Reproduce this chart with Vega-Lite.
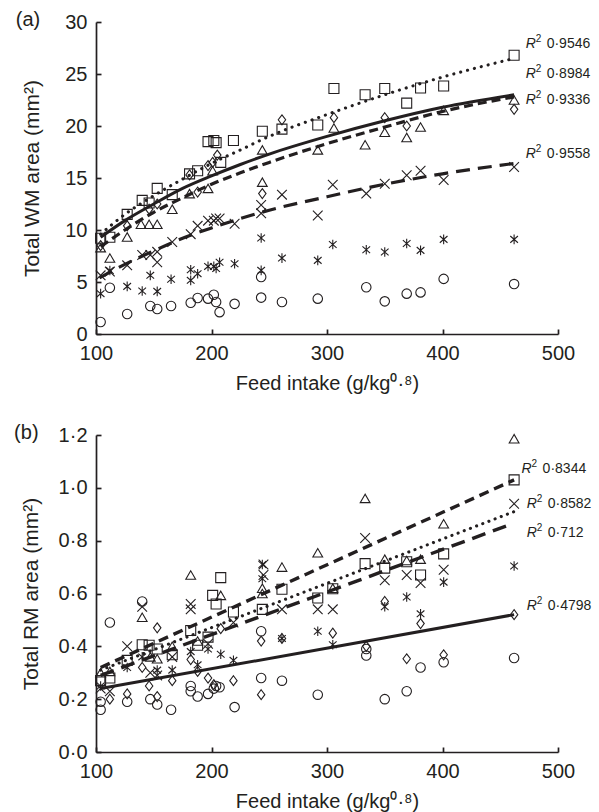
{
  "$schema": "https://vega.github.io/schema/vega-lite/v6.json",
  "padding": {"left": 14, "top": 10, "right": 5, "bottom": 5},
  "background": "white",
  "config": {
    "view": {"stroke": null},
    "font": "Liberation Sans",
    "axis": {"domainColor": "#231f20", "domainWidth": 1.7, "tickColor": "#231f20", "tickWidth": 1.7, "tickSize": -5, "grid": false, "labelFlush": false, "labelOverlap": false, "labelFont": "Liberation Sans", "labelFontSize": 20, "labelColor": "#231f20", "titleFont": "Liberation Sans", "titleFontSize": 21, "titleFontWeight": "normal", "titleColor": "#231f20"},
    "axisX": {"labelPadding": 14, "titlePadding": 10, "titleFontSize": 20},
    "axisY": {"labelPadding": 14},
    "title": {"font": "Liberation Sans", "fontSize": 20, "fontWeight": "normal", "color": "#231f20", "anchor": "start", "frame": "bounds", "offset": 0}
  },
  "datasets": {
    "a_pts": [
      {"x": 104, "y": 1.15, "s": "circle"}, {"x": 112, "y": 4.45, "s": "circle"}, {"x": 127, "y": 1.92, "s": "circle"}, {"x": 147, "y": 2.69, "s": "circle"}, {"x": 153, "y": 2.4, "s": "circle"}, {"x": 165, "y": 2.69, "s": "circle"}, {"x": 182, "y": 3.0, "s": "circle"}, {"x": 188, "y": 3.46, "s": "circle"}, {"x": 197, "y": 3.4, "s": "circle"}, {"x": 202, "y": 3.78, "s": "circle"}, {"x": 204, "y": 3.08, "s": "circle"}, {"x": 207, "y": 2.1, "s": "circle"}, {"x": 220, "y": 2.9, "s": "circle"}, {"x": 243, "y": 3.5, "s": "circle"}, {"x": 243, "y": 5.48, "s": "circle"}, {"x": 261, "y": 3.08, "s": "circle"}, {"x": 292, "y": 3.4, "s": "circle"}, {"x": 334, "y": 4.5, "s": "circle"}, {"x": 350, "y": 3.14, "s": "circle"}, {"x": 369, "y": 3.88, "s": "circle"}, {"x": 381, "y": 4.0, "s": "circle"}, {"x": 401, "y": 5.3, "s": "circle"}, {"x": 462, "y": 4.8, "s": "circle"},
      {"x": 104, "y": 3.88, "s": "asterisk"}, {"x": 112, "y": 6.1, "s": "asterisk"}, {"x": 127, "y": 4.58, "s": "asterisk"}, {"x": 140, "y": 4.13, "s": "asterisk"}, {"x": 147, "y": 5.64, "s": "asterisk"}, {"x": 153, "y": 4.1, "s": "asterisk"}, {"x": 165, "y": 5.26, "s": "asterisk"}, {"x": 182, "y": 5.16, "s": "asterisk"}, {"x": 182, "y": 6.18, "s": "asterisk"}, {"x": 188, "y": 5.8, "s": "asterisk"}, {"x": 197, "y": 6.5, "s": "asterisk"}, {"x": 202, "y": 6.5, "s": "asterisk"}, {"x": 204, "y": 6.3, "s": "asterisk"}, {"x": 207, "y": 6.9, "s": "asterisk"}, {"x": 220, "y": 6.76, "s": "asterisk"}, {"x": 243, "y": 6.12, "s": "asterisk"}, {"x": 243, "y": 9.23, "s": "asterisk"}, {"x": 261, "y": 7.3, "s": "asterisk"}, {"x": 292, "y": 7.08, "s": "asterisk"}, {"x": 305, "y": 8.6, "s": "asterisk"}, {"x": 334, "y": 8.1, "s": "asterisk"}, {"x": 350, "y": 7.88, "s": "asterisk"}, {"x": 369, "y": 8.7, "s": "asterisk"}, {"x": 381, "y": 8.04, "s": "asterisk"}, {"x": 401, "y": 9.1, "s": "asterisk"}, {"x": 462, "y": 9.1, "s": "asterisk"},
      {"x": 104, "y": 5.64, "s": "cross"}, {"x": 112, "y": 6.0, "s": "cross"}, {"x": 127, "y": 6.6, "s": "cross"}, {"x": 140, "y": 7.6, "s": "cross"}, {"x": 147, "y": 7.6, "s": "cross"}, {"x": 153, "y": 6.9, "s": "cross"}, {"x": 153, "y": 7.9, "s": "cross"}, {"x": 166, "y": 8.85, "s": "cross"}, {"x": 182, "y": 9.6, "s": "cross"}, {"x": 188, "y": 10.4, "s": "cross"}, {"x": 197, "y": 10.9, "s": "cross"}, {"x": 202, "y": 10.9, "s": "cross"}, {"x": 204, "y": 11.1, "s": "cross"}, {"x": 207, "y": 11.1, "s": "cross"}, {"x": 220, "y": 10.6, "s": "cross"}, {"x": 243, "y": 12.4, "s": "cross"}, {"x": 243, "y": 11.6, "s": "cross"}, {"x": 261, "y": 13.4, "s": "cross"}, {"x": 292, "y": 11.4, "s": "cross"}, {"x": 305, "y": 14.35, "s": "cross"}, {"x": 334, "y": 13.5, "s": "cross"}, {"x": 350, "y": 14.45, "s": "cross"}, {"x": 369, "y": 15.26, "s": "cross"}, {"x": 381, "y": 15.7, "s": "cross"}, {"x": 401, "y": 14.8, "s": "cross"}, {"x": 462, "y": 16.06, "s": "cross"},
      {"x": 104, "y": 8.3, "s": "triangle"}, {"x": 112, "y": 7.3, "s": "triangle"}, {"x": 127, "y": 9.33, "s": "triangle"}, {"x": 139, "y": 10.55, "s": "triangle"}, {"x": 146, "y": 10.55, "s": "triangle"}, {"x": 153, "y": 10.55, "s": "triangle"}, {"x": 166, "y": 12.0, "s": "triangle"}, {"x": 181, "y": 13.5, "s": "triangle"}, {"x": 197, "y": 14.0, "s": "triangle"}, {"x": 201, "y": 15.7, "s": "triangle"}, {"x": 244, "y": 17.7, "s": "triangle"}, {"x": 244, "y": 14.6, "s": "triangle"}, {"x": 292, "y": 17.7, "s": "triangle"}, {"x": 306, "y": 19.8, "s": "triangle"}, {"x": 333, "y": 18.2, "s": "triangle"}, {"x": 350, "y": 19.4, "s": "triangle"}, {"x": 369, "y": 18.9, "s": "triangle"}, {"x": 381, "y": 19.9, "s": "triangle"}, {"x": 401, "y": 21.5, "s": "triangle"}, {"x": 462, "y": 22.5, "s": "triangle"},
      {"x": 104, "y": 8.5, "s": "diamond"}, {"x": 127, "y": 10.4, "s": "diamond"}, {"x": 146, "y": 12.0, "s": "diamond"}, {"x": 153, "y": 12.5, "s": "diamond"}, {"x": 181, "y": 15.3, "s": "diamond"}, {"x": 188, "y": 13.65, "s": "diamond"}, {"x": 197, "y": 16.2, "s": "diamond"}, {"x": 201, "y": 16.5, "s": "diamond"}, {"x": 205, "y": 17.2, "s": "diamond"}, {"x": 244, "y": 13.5, "s": "diamond"}, {"x": 261, "y": 20.6, "s": "diamond"}, {"x": 306, "y": 20.8, "s": "diamond"}, {"x": 350, "y": 20.8, "s": "diamond"}, {"x": 369, "y": 20.0, "s": "diamond"}, {"x": 462, "y": 21.6, "s": "diamond"},
      {"x": 104, "y": 9.2, "s": "square"}, {"x": 112, "y": 9.3, "s": "square"}, {"x": 127, "y": 11.5, "s": "square"}, {"x": 140, "y": 12.85, "s": "square"}, {"x": 146, "y": 12.6, "s": "square"}, {"x": 153, "y": 14.0, "s": "square"}, {"x": 166, "y": 13.4, "s": "square"}, {"x": 181, "y": 15.4, "s": "square"}, {"x": 188, "y": 15.7, "s": "square"}, {"x": 197, "y": 18.5, "s": "square"}, {"x": 202, "y": 18.6, "s": "square"}, {"x": 204, "y": 18.4, "s": "square"}, {"x": 208, "y": 16.5, "s": "square"}, {"x": 219, "y": 18.6, "s": "square"}, {"x": 244, "y": 19.5, "s": "square"}, {"x": 261, "y": 19.7, "s": "square"}, {"x": 292, "y": 20.1, "s": "square"}, {"x": 306, "y": 23.6, "s": "square"}, {"x": 333, "y": 23.0, "s": "square"}, {"x": 350, "y": 23.6, "s": "square"}, {"x": 369, "y": 22.2, "s": "square"}, {"x": 381, "y": 23.65, "s": "square"}, {"x": 401, "y": 23.85, "s": "square"}, {"x": 462, "y": 26.8, "s": "square"}
    ],
    "a_fit": [
      {"x": 104, "y": 9.6, "f": "dot"}, {"x": 125, "y": 11.5, "f": "dot"}, {"x": 150, "y": 13.3, "f": "dot"}, {"x": 175, "y": 14.9, "f": "dot"}, {"x": 200, "y": 16.4, "f": "dot"}, {"x": 225, "y": 17.7, "f": "dot"}, {"x": 250, "y": 19.0, "f": "dot"}, {"x": 300, "y": 21.1, "f": "dot"}, {"x": 350, "y": 23.0, "f": "dot"}, {"x": 400, "y": 24.7, "f": "dot"}, {"x": 462, "y": 26.5, "f": "dot"},
      {"x": 104, "y": 9.3, "f": "solid"}, {"x": 125, "y": 10.9, "f": "solid"}, {"x": 150, "y": 12.5, "f": "solid"}, {"x": 175, "y": 14.0, "f": "solid"}, {"x": 200, "y": 15.2, "f": "solid"}, {"x": 225, "y": 16.3, "f": "solid"}, {"x": 250, "y": 17.3, "f": "solid"}, {"x": 300, "y": 19.0, "f": "solid"}, {"x": 350, "y": 20.5, "f": "solid"}, {"x": 400, "y": 21.8, "f": "solid"}, {"x": 462, "y": 23.0, "f": "solid"},
      {"x": 104, "y": 8.4, "f": "dash"}, {"x": 125, "y": 10.0, "f": "dash"}, {"x": 150, "y": 11.7, "f": "dash"}, {"x": 175, "y": 13.1, "f": "dash"}, {"x": 200, "y": 14.4, "f": "dash"}, {"x": 225, "y": 15.5, "f": "dash"}, {"x": 250, "y": 16.5, "f": "dash"}, {"x": 300, "y": 18.3, "f": "dash"}, {"x": 350, "y": 19.9, "f": "dash"}, {"x": 400, "y": 21.4, "f": "dash"}, {"x": 462, "y": 22.8, "f": "dash"},
      {"x": 103, "y": 5.4, "f": "long"}, {"x": 125, "y": 6.7, "f": "long"}, {"x": 150, "y": 8.0, "f": "long"}, {"x": 175, "y": 9.2, "f": "long"}, {"x": 200, "y": 10.2, "f": "long"}, {"x": 225, "y": 11.1, "f": "long"}, {"x": 250, "y": 11.9, "f": "long"}, {"x": 300, "y": 13.2, "f": "long"}, {"x": 350, "y": 14.4, "f": "long"}, {"x": 400, "y": 15.4, "f": "long"}, {"x": 462, "y": 16.4, "f": "long"}
    ],
    "a_lab": [
      {"x": 472, "y": 27.9, "t": "0·9546"}, {"x": 472, "y": 25.0, "t": "0·8984"}, {"x": 472, "y": 22.5, "t": "0·9336"}, {"x": 472, "y": 17.3, "t": "0·9558"}
    ],
    "b_pts": [
      {"x": 104, "y": 0.16, "s": "circle"}, {"x": 104, "y": 0.19, "s": "circle"}, {"x": 112, "y": 0.49, "s": "circle"}, {"x": 127, "y": 0.19, "s": "circle"}, {"x": 140, "y": 0.57, "s": "circle"}, {"x": 147, "y": 0.2, "s": "circle"}, {"x": 153, "y": 0.18, "s": "circle"}, {"x": 165, "y": 0.16, "s": "circle"}, {"x": 182, "y": 0.25, "s": "circle"}, {"x": 182, "y": 0.23, "s": "circle"}, {"x": 188, "y": 0.21, "s": "circle"}, {"x": 197, "y": 0.22, "s": "circle"}, {"x": 202, "y": 0.24, "s": "circle"}, {"x": 204, "y": 0.25, "s": "circle"}, {"x": 207, "y": 0.245, "s": "circle"}, {"x": 220, "y": 0.17, "s": "circle"}, {"x": 243, "y": 0.28, "s": "circle"}, {"x": 243, "y": 0.457, "s": "circle"}, {"x": 261, "y": 0.27, "s": "circle"}, {"x": 292, "y": 0.217, "s": "circle"}, {"x": 334, "y": 0.39, "s": "circle"}, {"x": 334, "y": 0.365, "s": "circle"}, {"x": 350, "y": 0.2, "s": "circle"}, {"x": 369, "y": 0.23, "s": "circle"}, {"x": 381, "y": 0.32, "s": "circle"}, {"x": 401, "y": 0.34, "s": "circle"}, {"x": 462, "y": 0.356, "s": "circle"},
      {"x": 112, "y": 0.2, "s": "diamond"}, {"x": 127, "y": 0.22, "s": "diamond"}, {"x": 140, "y": 0.32, "s": "diamond"}, {"x": 146, "y": 0.25, "s": "diamond"}, {"x": 153, "y": 0.47, "s": "diamond"}, {"x": 153, "y": 0.21, "s": "diamond"}, {"x": 166, "y": 0.27, "s": "diamond"}, {"x": 182, "y": 0.35, "s": "diamond"}, {"x": 188, "y": 0.305, "s": "diamond"}, {"x": 197, "y": 0.28, "s": "diamond"}, {"x": 202, "y": 0.255, "s": "diamond"}, {"x": 208, "y": 0.467, "s": "diamond"}, {"x": 219, "y": 0.27, "s": "diamond"}, {"x": 243, "y": 0.217, "s": "diamond"}, {"x": 243, "y": 0.42, "s": "diamond"}, {"x": 261, "y": 0.43, "s": "diamond"}, {"x": 305, "y": 0.45, "s": "diamond"}, {"x": 334, "y": 0.4, "s": "diamond"}, {"x": 350, "y": 0.57, "s": "diamond"}, {"x": 369, "y": 0.353, "s": "diamond"}, {"x": 381, "y": 0.486, "s": "diamond"}, {"x": 401, "y": 0.368, "s": "diamond"}, {"x": 462, "y": 0.52, "s": "diamond"},
      {"x": 104, "y": 0.25, "s": "asterisk"}, {"x": 127, "y": 0.32, "s": "asterisk"}, {"x": 140, "y": 0.36, "s": "asterisk"}, {"x": 153, "y": 0.31, "s": "asterisk"}, {"x": 166, "y": 0.31, "s": "asterisk"}, {"x": 182, "y": 0.38, "s": "asterisk"}, {"x": 188, "y": 0.33, "s": "asterisk"}, {"x": 197, "y": 0.39, "s": "asterisk"}, {"x": 208, "y": 0.37, "s": "asterisk"}, {"x": 219, "y": 0.347, "s": "asterisk"}, {"x": 244, "y": 0.71, "s": "asterisk"}, {"x": 244, "y": 0.656, "s": "asterisk"}, {"x": 261, "y": 0.43, "s": "asterisk"}, {"x": 292, "y": 0.457, "s": "asterisk"}, {"x": 305, "y": 0.406, "s": "asterisk"}, {"x": 350, "y": 0.55, "s": "asterisk"}, {"x": 369, "y": 0.587, "s": "asterisk"}, {"x": 381, "y": 0.523, "s": "asterisk"}, {"x": 401, "y": 0.643, "s": "asterisk"}, {"x": 462, "y": 0.704, "s": "asterisk"},
      {"x": 104, "y": 0.24, "s": "cross"}, {"x": 112, "y": 0.23, "s": "cross"}, {"x": 127, "y": 0.4, "s": "cross"}, {"x": 140, "y": 0.55, "s": "cross"}, {"x": 147, "y": 0.3, "s": "cross"}, {"x": 153, "y": 0.29, "s": "cross"}, {"x": 166, "y": 0.36, "s": "cross"}, {"x": 182, "y": 0.56, "s": "cross"}, {"x": 182, "y": 0.54, "s": "cross"}, {"x": 197, "y": 0.41, "s": "cross"}, {"x": 219, "y": 0.49, "s": "cross"}, {"x": 245, "y": 0.71, "s": "cross"}, {"x": 245, "y": 0.67, "s": "cross"}, {"x": 261, "y": 0.54, "s": "cross"}, {"x": 292, "y": 0.54, "s": "cross"}, {"x": 305, "y": 0.54, "s": "cross"}, {"x": 333, "y": 0.81, "s": "cross"}, {"x": 350, "y": 0.65, "s": "cross"}, {"x": 369, "y": 0.67, "s": "cross"}, {"x": 381, "y": 0.64, "s": "cross"}, {"x": 401, "y": 0.69, "s": "cross"}, {"x": 462, "y": 0.94, "s": "cross"},
      {"x": 104, "y": 0.3, "s": "triangle"}, {"x": 112, "y": 0.305, "s": "triangle"}, {"x": 140, "y": 0.51, "s": "triangle"}, {"x": 147, "y": 0.36, "s": "triangle"}, {"x": 153, "y": 0.353, "s": "triangle"}, {"x": 166, "y": 0.4, "s": "triangle"}, {"x": 182, "y": 0.67, "s": "triangle"}, {"x": 188, "y": 0.42, "s": "triangle"}, {"x": 208, "y": 0.593, "s": "triangle"}, {"x": 244, "y": 0.62, "s": "triangle"}, {"x": 244, "y": 0.6, "s": "triangle"}, {"x": 261, "y": 0.7, "s": "triangle"}, {"x": 292, "y": 0.754, "s": "triangle"}, {"x": 305, "y": 0.62, "s": "triangle"}, {"x": 333, "y": 0.96, "s": "triangle"}, {"x": 350, "y": 0.73, "s": "triangle"}, {"x": 369, "y": 0.725, "s": "triangle"}, {"x": 381, "y": 0.73, "s": "triangle"}, {"x": 401, "y": 0.864, "s": "triangle"}, {"x": 462, "y": 1.186, "s": "triangle"},
      {"x": 104, "y": 0.27, "s": "square"}, {"x": 112, "y": 0.28, "s": "square"}, {"x": 127, "y": 0.347, "s": "square"}, {"x": 140, "y": 0.406, "s": "square"}, {"x": 146, "y": 0.404, "s": "square"}, {"x": 153, "y": 0.39, "s": "square"}, {"x": 166, "y": 0.368, "s": "square"}, {"x": 182, "y": 0.46, "s": "square"}, {"x": 188, "y": 0.404, "s": "square"}, {"x": 197, "y": 0.435, "s": "square"}, {"x": 201, "y": 0.593, "s": "square"}, {"x": 204, "y": 0.56, "s": "square"}, {"x": 208, "y": 0.66, "s": "square"}, {"x": 219, "y": 0.53, "s": "square"}, {"x": 244, "y": 0.54, "s": "square"}, {"x": 261, "y": 0.616, "s": "square"}, {"x": 292, "y": 0.583, "s": "square"}, {"x": 305, "y": 0.618, "s": "square"}, {"x": 333, "y": 0.713, "s": "square"}, {"x": 350, "y": 0.696, "s": "square"}, {"x": 369, "y": 0.72, "s": "square"}, {"x": 381, "y": 0.67, "s": "square"}, {"x": 401, "y": 0.75, "s": "square"}, {"x": 462, "y": 1.03, "s": "square"}
    ],
    "b_fit": [
      {"x": 104, "y": 0.32, "f": "dash"}, {"x": 462, "y": 1.03, "f": "dash"},
      {"x": 104, "y": 0.31, "f": "dot"}, {"x": 462, "y": 0.91, "f": "dot"},
      {"x": 104, "y": 0.29, "f": "long"}, {"x": 458, "y": 0.86, "f": "long"},
      {"x": 104, "y": 0.24, "f": "solid"}, {"x": 462, "y": 0.52, "f": "solid"}
    ],
    "b_lab": [
      {"x": 468.5, "y": 1.072, "t": "0·8344"}, {"x": 473, "y": 0.94, "t": "0·8582"}, {"x": 473, "y": 0.83, "t": "0·712"}, {"x": 473, "y": 0.553, "t": "0·4798"}
    ]
  },
  "vconcat": [
    {
      "width": 462, "height": 312,
      "title": {"text": "(a)", "dx": -6, "dy": 22},
      "encoding": {
        "x": {"field": "x", "type": "quantitative", "scale": {"domain": [100, 500]}, "axis": {"values": [100, 200, 300, 400, 500], "title": "Feed intake (g/kg⁰·⁸)"}},
        "y": {"field": "y", "type": "quantitative", "scale": {"domain": [0, 30]}, "axis": {"values": [0, 5, 10, 15, 20, 25, 30], "title": "Total WM area (mm²)", "titlePadding": 22}}
      },
      "layer": [
        {"data": {"name": "a_fit"}, "transform": [{"filter": "datum.f == 'dot'"}], "mark": {"type": "line", "color": "#231f20", "strokeWidth": 3.1, "strokeDash": [0.1, 7], "strokeCap": "round", "interpolate": "monotone"}, "encoding": {}},
        {"data": {"name": "a_fit"}, "transform": [{"filter": "datum.f == 'solid'"}], "mark": {"type": "line", "color": "#231f20", "strokeWidth": 3, "interpolate": "monotone"}, "encoding": {}},
        {"data": {"name": "a_fit"}, "transform": [{"filter": "datum.f == 'dash'"}], "mark": {"type": "line", "color": "#231f20", "strokeWidth": 3.2, "strokeDash": [9, 5], "interpolate": "monotone"}, "encoding": {}},
        {"data": {"name": "a_fit"}, "transform": [{"filter": "datum.f == 'long'"}], "mark": {"type": "line", "color": "#231f20", "strokeWidth": 3.2, "strokeDash": [14, 8], "interpolate": "monotone"}, "encoding": {}},
        {"data": {"name": "a_pts"}, "mark": {"type": "point", "filled": false, "color": "#231f20", "strokeWidth": 1.1, "opacity": 1},
          "encoding": {
            "shape": {"field": "s", "type": "nominal", "legend": null, "scale": {"domain": ["circle", "asterisk", "cross", "triangle", "diamond", "square"], "range": ["circle", "M-0.8,-0.7L0.8,0.7M0.8,-0.7L-0.8,0.7M0,-1L0,1", "M-1,-1L1,1M1,-1L-1,1", "triangle-up", "M0,-1L0.75,0L0,1L-0.75,0Z", "square"]}},
            "size": {"field": "s", "type": "nominal", "legend": null, "scale": {"domain": ["circle", "asterisk", "cross", "triangle", "diamond", "square"], "range": [90, 100, 64, 110, 100, 90]}}
          }},
        {"data": {"name": "a_lab"}, "mark": {"type": "text", "text": "R", "fontStyle": "italic", "fontSize": 14, "align": "left", "baseline": "middle", "color": "#231f20"}, "encoding": {}},
        {"data": {"name": "a_lab"}, "mark": {"type": "text", "text": "2", "fontSize": 10, "align": "left", "baseline": "middle", "dx": 10, "dy": -5, "color": "#231f20"}, "encoding": {}},
        {"data": {"name": "a_lab"}, "mark": {"type": "text", "fontSize": 14, "align": "left", "baseline": "middle", "dx": 21, "color": "#231f20"}, "encoding": {"text": {"field": "t"}}}
      ]
    },
    {
      "width": 462, "height": 317,
      "title": {"text": "(b)", "dx": -6, "dy": 22},
      "encoding": {
        "x": {"field": "x", "type": "quantitative", "scale": {"domain": [100, 500]}, "axis": {"values": [100, 200, 300, 400, 500], "title": "Feed intake (g/kg⁰·⁸)"}},
        "y": {"field": "y", "type": "quantitative", "scale": {"domain": [0, 1.2]}, "axis": {"values": [0, 0.2, 0.4, 0.6, 0.8, 1.0, 1.2], "labelExpr": "replace(format(datum.value, '.1f'), '.', '·')", "title": "Total RM area (mm²)", "titlePadding": 17}}
      },
      "layer": [
        {"data": {"name": "b_fit"}, "transform": [{"filter": "datum.f == 'dot'"}], "mark": {"type": "line", "color": "#231f20", "strokeWidth": 3.1, "strokeDash": [0.1, 6.5], "strokeCap": "round"}, "encoding": {}},
        {"data": {"name": "b_fit"}, "transform": [{"filter": "datum.f == 'solid'"}], "mark": {"type": "line", "color": "#231f20", "strokeWidth": 3}, "encoding": {}},
        {"data": {"name": "b_fit"}, "transform": [{"filter": "datum.f == 'dash'"}], "mark": {"type": "line", "color": "#231f20", "strokeWidth": 3.4, "strokeDash": [10, 6]}, "encoding": {}},
        {"data": {"name": "b_fit"}, "transform": [{"filter": "datum.f == 'long'"}], "mark": {"type": "line", "color": "#231f20", "strokeWidth": 3.4, "strokeDash": [14, 8]}, "encoding": {}},
        {"data": {"name": "b_pts"}, "mark": {"type": "point", "filled": false, "color": "#231f20", "strokeWidth": 1.1, "opacity": 1},
          "encoding": {
            "shape": {"field": "s", "type": "nominal", "legend": null, "scale": {"domain": ["circle", "asterisk", "cross", "triangle", "diamond", "square"], "range": ["circle", "M-0.8,-0.7L0.8,0.7M0.8,-0.7L-0.8,0.7M0,-1L0,1", "M-1,-1L1,1M1,-1L-1,1", "triangle-up", "M0,-1L0.75,0L0,1L-0.75,0Z", "square"]}},
            "size": {"field": "s", "type": "nominal", "legend": null, "scale": {"domain": ["circle", "asterisk", "cross", "triangle", "diamond", "square"], "range": [90, 100, 64, 110, 100, 90]}}
          }},
        {"data": {"name": "b_lab"}, "mark": {"type": "text", "text": "R", "fontStyle": "italic", "fontSize": 14, "align": "left", "baseline": "middle", "color": "#231f20"}, "encoding": {}},
        {"data": {"name": "b_lab"}, "mark": {"type": "text", "text": "2", "fontSize": 10, "align": "left", "baseline": "middle", "dx": 10, "dy": -5, "color": "#231f20"}, "encoding": {}},
        {"data": {"name": "b_lab"}, "mark": {"type": "text", "fontSize": 14, "align": "left", "baseline": "middle", "dx": 21, "color": "#231f20"}, "encoding": {"text": {"field": "t"}}}
      ]
    }
  ],
  "spacing": 101,
  "bounds": "flush",
  "resolve": {"scale": {"x": "independent", "y": "independent"}}
}
